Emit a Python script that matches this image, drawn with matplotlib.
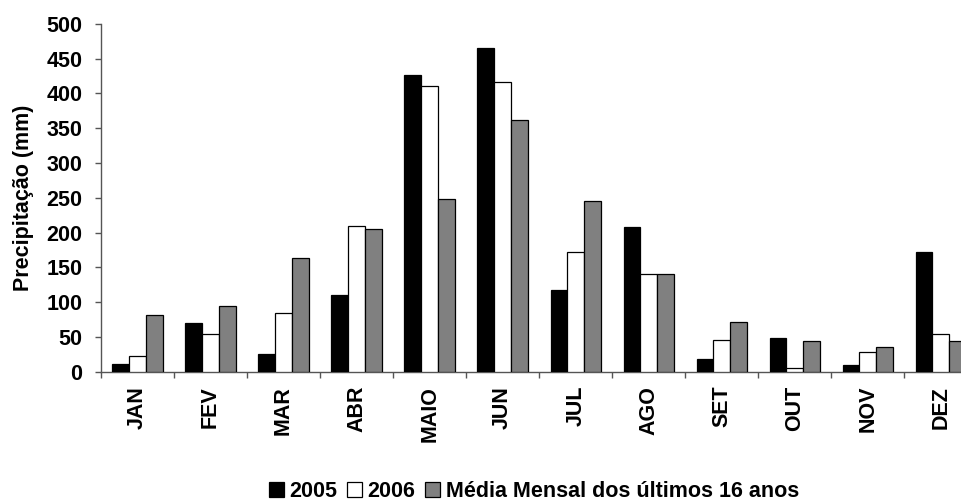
import numpy as np
import matplotlib
matplotlib.use("Agg")
import matplotlib.pyplot as plt
from matplotlib.patches import Patch

plt.rcParams["font.family"] = ["Liberation Sans", "DejaVu Sans"]
plt.rcParams["font.weight"] = "bold"

months = ["JAN", "FEV", "MAR", "ABR", "MAIO", "JUN",
          "JUL", "AGO", "SET", "OUT", "NOV", "DEZ"]
y2005 = [11, 70, 26, 110, 426, 465, 118, 208, 18, 49, 10, 172]
y2006 = [23, 54, 85, 210, 410, 416, 172, 141, 46, 5, 28, 54]
media = [82, 95, 164, 205, 249, 362, 246, 141, 72, 44, 36, 44]
series_labels = ["2005", "2006", "Média Mensal dos últimos 16 anos"]
series_colors = ["black", "white", "#808080"]

FS = 15.5

fig = plt.figure(figsize=(9.62, 5.04), dpi=100)
ax = fig.add_axes([0.105, 0.262, 0.911, 0.691])

x = np.arange(len(months))
w = 0.23
for k, (vals, col) in enumerate(zip([y2005, y2006, media], series_colors)):
    ax.bar(x + (k - 1) * w, vals, width=w, color=col, edgecolor="black",
           linewidth=0.9, zorder=3)

ax.set_xlim(-0.5, len(months) - 0.5)
ax.set_ylim(0, 500)
ax.set_yticks(range(0, 501, 50))
ax.tick_params(axis="y", labelsize=FS, length=4.5, width=1, color="#555555", pad=9)

ax.set_xticks(x)
ax.set_xticklabels(months, rotation=90, fontsize=FS, fontweight="bold")
ax.tick_params(axis="x", which="major", length=0, pad=10)
ax.set_xticks(np.arange(-0.5, len(months), 1), minor=True)
ax.tick_params(axis="x", which="minor", length=4.5, width=1, color="#555555")

for s in ["top", "right"]:
    ax.spines[s].set_visible(False)
for s in ["left", "bottom"]:
    ax.spines[s].set_color("#555555")
    ax.spines[s].set_linewidth(1)

ax.set_ylabel("Precipitação (mm)", fontsize=FS, fontweight="bold", labelpad=9)

handles = [Patch(facecolor=c, edgecolor="black", linewidth=0.9) for c in series_colors]
fig.legend(handles, series_labels, loc="center", bbox_to_anchor=(0.555, 0.024),
           ncol=3, frameon=False, fontsize=FS, handlelength=0.7, handleheight=0.7,
           handletextpad=0.25, columnspacing=0.45, borderpad=0)

fig.savefig("out.png", dpi=100)
